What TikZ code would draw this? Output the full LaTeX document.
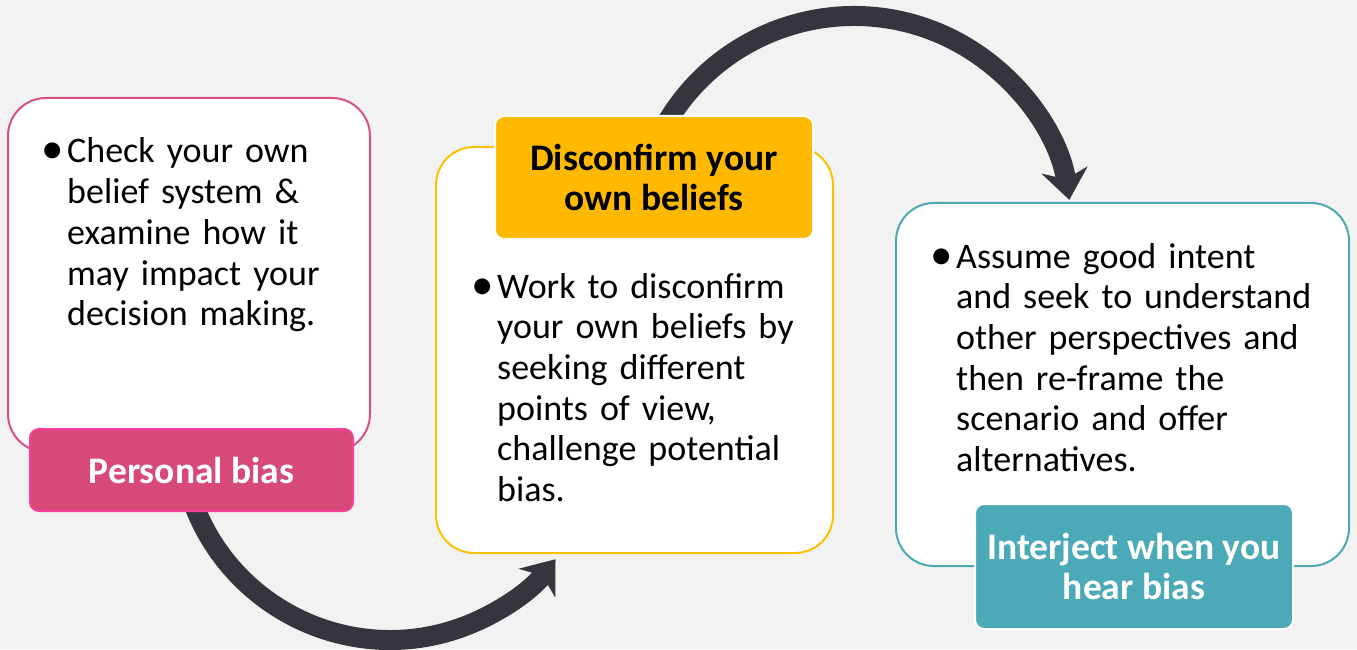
\documentclass[tikz,border=0pt]{standalone}
\usepackage{fontspec}
\setmainfont{Carlito}
\usetikzlibrary{arrows.meta}

\definecolor{bggray}{HTML}{F2F2F2}
\definecolor{arrowgray}{HTML}{35353D}
\definecolor{pinkline}{HTML}{D95080}
\definecolor{pinkfill}{HTML}{D64978}
\definecolor{pinkedge}{HTML}{F7409A}
\definecolor{orangeline}{HTML}{FFC000}
\definecolor{orangefill}{HTML}{FFB900}
\definecolor{tealline}{HTML}{4DA8B5}
\definecolor{tealfill}{HTML}{4BA9B8}

\newcommand{\bulletitem}[1]{\leftskip=22pt\hspace*{-22pt}\makebox[22pt][l]{\hspace{-4pt}\raisebox{-1pt}{\scalebox{1.25}{\textbullet}}}#1\par}

\begin{document}
\begin{tikzpicture}[x=1pt, y=1pt,
	font=\fontsize{36}{40.7}\selectfont,
	panel/.style={draw, line width=2pt, fill=white, rounded corners=38pt, inner sep=0pt},
	tag/.style={draw=white, line width=2pt, rounded corners=9pt, font=\fontsize{37.5}{40}\selectfont\bfseries, align=center, inner sep=0pt},
	bullets/.style={anchor=base west, inner sep=0pt, text width=#1, align=left},
	loop/.style={draw=arrowgray, line width=20pt, -{Stealth[length=30pt, width=46pt, inset=9pt]}}
]
	
	\fill[bggray] (0,0) rectangle (1357,649);
	\useasboundingbox (0,0) rectangle (1357,649);
	
	\coordinate (a1) at (192.7,147.2);
	\coordinate (a2) at (665.2,524);
	\draw[loop] (a1) arc[start angle=200, end angle=322, radius=210];
	\draw[loop] (a2) arc[start angle=150, end angle=9, radius=218];
	
	\node[panel, draw=pinkline, minimum width=362pt, minimum height=354pt] (p1) at (189,374) {};
	\node[panel, draw=orangeline, minimum width=397pt, minimum height=406pt] (p2) at (634.5,299) {};
	\node[panel, draw=tealline, minimum width=453pt, minimum height=363pt] (p3) at (1122.5,264.5) {};
	
	\node[bullets=330pt] (t1) at (45,486) {\bulletitem{Check your own\\belief system \&\\examine how it\\may impact your\\decision making.}};
	\node[bullets=350pt] (t2) at (475,351) {\bulletitem{Work to disconfirm\\your own beliefs by\\seeking different\\points of view,\\challenge potential\\bias.}};
	\node[bullets=410pt] (t3) at (934,381) {\bulletitem{Assume good intent\\and seek to understand\\other perspectives and\\then re-frame the\\scenario and offer\\alternatives.}};
	
	\node[tag, draw=pinkedge, fill=pinkfill, text=white, minimum width=323pt, minimum height=82pt] (l1) at (191.5,179) {Personal bias};
	\node[tag, fill=orangefill, text=black, minimum width=318pt, minimum height=123pt] (l2) at (654,471.5) {Disconfirm your\\own beliefs};
	\node[tag, fill=tealfill, text=white, minimum width=318pt, minimum height=125pt] (l3) at (1134,82.5) {Interject when you\\hear bias};

\end{tikzpicture}
\end{document}
